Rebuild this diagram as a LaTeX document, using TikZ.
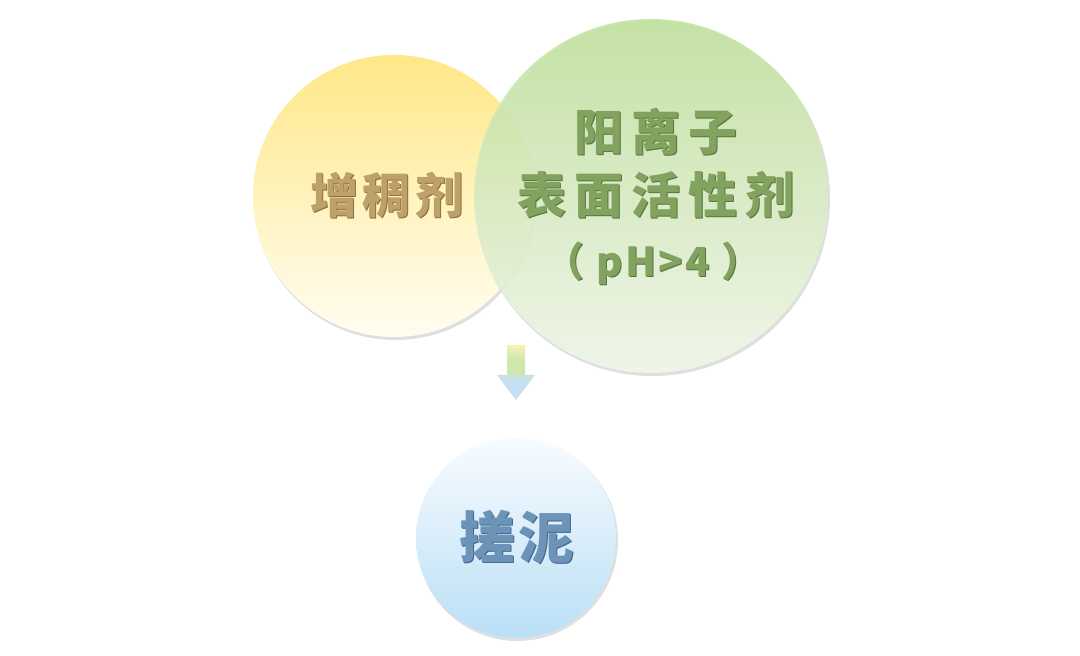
\documentclass[tikz,border=0pt]{standalone}
\usepackage{fontspec}
\newfontfamily\cjk{Noto Sans CJK SC}
\usetikzlibrary{calc}
\definecolor{ytop}{RGB}{255,232,135}
\definecolor{ybot}{RGB}{255,253,242}
\definecolor{gtop}{RGB}{192,226,155}
\definecolor{gbot}{RGB}{242,249,235}
\definecolor{btop}{RGB}{248,252,255}
\definecolor{bbot}{RGB}{186,223,246}
\definecolor{ytext}{RGB}{190,160,105}
\definecolor{ysh}{RGB}{140,112,65}
\definecolor{gtext}{RGB}{130,162,96}
\definecolor{gsh}{RGB}{88,118,60}
\definecolor{btext}{RGB}{108,148,184}
\definecolor{bsh}{RGB}{68,102,138}
\definecolor{ablue}{RGB}{196,224,244}
\definecolor{agreen}{RGB}{205,232,175}
\definecolor{ayellow}{RGB}{252,240,185}
\pgfdeclareverticalshading{arrowshade}{100bp}{color(0bp)=(ablue); color(44bp)=(ablue); color(50bp)=(agreen); color(62bp)=(agreen); color(75bp)=(ayellow); color(100bp)=(ayellow)}
\tikzset{
  ball/.style={circle, inner sep=0pt, draw=none},
  rim/.style={fill=black!35, opacity=0.35},
  cjkbig/.style={font=\cjk\bfseries\fontsize{49}{56}\selectfont\addfontfeature{LetterSpace=16}},
  cjkmid/.style={font=\cjk\bfseries\fontsize{48}{56}\selectfont\addfontfeature{LetterSpace=9}},
  cjkph/.style={font=\cjk\bfseries\fontsize{40}{48}\selectfont\addfontfeature{LetterSpace=6}},
  cjkhuge/.style={font=\cjk\bfseries\fontsize{56}{64}\selectfont\addfontfeature{LetterSpace=5}},
  label/.style={inner sep=0pt, anchor=center},
}
\begin{document}
\begin{tikzpicture}[x=1pt,y=1pt]
\fill[white] (0,0) rectangle (1080,656);
\useasboundingbox (0,0) rectangle (1080,656);
% yellow
\fill[rim] (395.5,457.5) circle (141.5);
\node[ball, minimum size=282pt, top color=ytop, bottom color=ybot] (thick) at (394,460) {};
% green
\fill[rim] (652.5,457.5) circle (177.5);
\node[ball, minimum size=354pt, top color=gtop, bottom color=gbot, fill opacity=0.86] (cation) at (651,460) {};
% blue
\fill[rim] (517.5,115.5) circle (100.5);
\node[ball, minimum size=200pt, top color=btop, bottom color=bbot] (mud) at (516,118) {};
% arrow
\coordinate (atop) at (516,311);
\coordinate (atip) at (516,256);
\shade[shading=arrowshade] ($(atop)+(-9,0)$) -- ($(atop)+(9,0)$) -- ($(atip)+(9,25)$) -- ($(atip)+(19,25)$) -- (atip) -- ($(atip)+(-19,25)$) -- ($(atip)+(-9,25)$) -- cycle;
% texts: yellow
\node[label, cjkmid, text=ysh] (t1s) at (388,460) {增稠剂};
\node[label, cjkmid, text=ytext] (t1) at (387,461) {增稠剂};
% green
\node[label, cjkbig, text=gsh] (t2s) at (657,523) {阳离子};
\node[label, cjkbig, text=gtext] (t2) at (656,524) {阳离子};
\node[label, cjkbig, text=gsh] (t3s) at (657,460) {表面活性剂};
\node[label, cjkbig, text=gtext] (t3) at (656,461) {表面活性剂};
\node[label, cjkph, text=gsh] (t4s) at (654,392) {（ pH>4 ）};
\node[label, cjkph, text=gtext] (t4) at (653,393) {（ pH>4 ）};
% blue
\node[label, cjkhuge, text=bsh] (t5s) at (518,118) {搓泥};
\node[label, cjkhuge, text=btext] (t5) at (517,119) {搓泥};
\end{tikzpicture}
\end{document}
